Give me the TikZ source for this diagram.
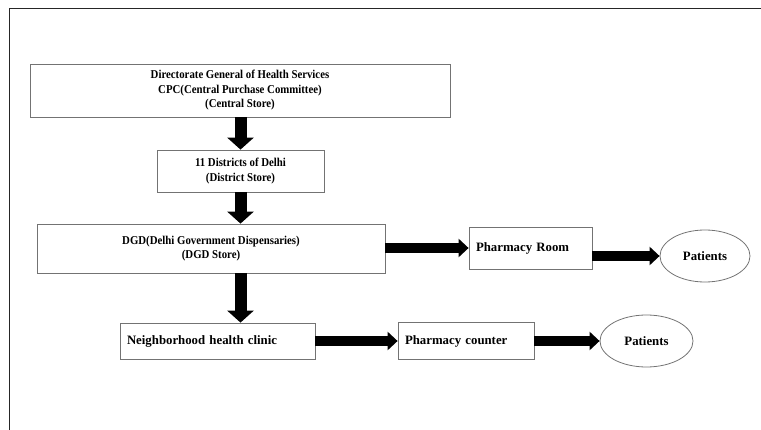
\documentclass[tikz,border=0pt]{standalone}
\usepackage{fontspec}
\setmainfont{Liberation Serif}
\usepackage{tikz}
\usetikzlibrary{arrows.meta,%
                shapes.geometric,positioning}

\begin{document}
\begin{tikzpicture}[x=1pt,y=-1pt,
  every node/.style={font=\fontsize{12}{14.5}\selectfont\bfseries\addfontfeature{FakeStretch=0.9}},
  box/.style={draw=black!55,line width=0.8pt,inner sep=0pt},
  leftbox/.style={box,align=left,inner xsep=7pt,font=\fontsize{12.8}{15}\selectfont\bfseries},
  oval/.style={draw=black!55,line width=0.8pt,ellipse,inner sep=0pt,font=\fontsize{12.8}{15}\selectfont\bfseries},
  fatdown/.style={line width=12pt,-{Triangle[length=12pt,width=26pt]}},
  fatright/.style={line width=9.5pt,-{Triangle[length=10pt,width=18pt]}}]
\useasboundingbox (0,0) rectangle (761,430);
% frame
\draw[black!85,line width=0.8pt] (761,8) -- (9,8) -- (9,430);
% boxes
\node[box,minimum width=420pt,minimum height=53pt,align=center] (dghs) at (240,90.5)
  {Directorate General of Health Services\\CPC(Central Purchase Committee)\\(Central Store)};
\node[box,minimum width=167pt,minimum height=42pt,align=center] (dist) at (240.5,171)
  {11 Districts of Delhi\\(District Store)};
\node[box,minimum width=348pt,minimum height=49pt,align=center] (dgd) at (211,248.5)
  {DGD(Delhi Government Dispensaries)\\(DGD Store)};
\node[leftbox,text width=181pt,minimum height=36pt] (nhc) at (217.5,341)
  {Neighborhood health clinic};
\node[leftbox,text width=122pt,minimum height=37pt] (pcnt) at (466,341)
  {Pharmacy counter};
\node[oval,minimum width=93pt,minimum height=52pt] (pat2) at (646.5,341) {Patients};
\node[leftbox,text width=109pt,minimum height=42pt] (proom) at (530.5,248)
  {Pharmacy Room};
\node[oval,minimum width=90pt,minimum height=52pt] (pat1) at (705,256) {Patients};
% arrows
\draw[fatdown] (dghs.south -| dist.north) -- (dist.north);
\draw[fatdown] (dist.south) -- (dist.south |- dgd.north);
\draw[fatdown] (dgd.south -| dist.south) -- (dist.south |- nhc.north);
\draw[fatright] (dgd.east |- proom.west) -- (proom.west);
\draw[fatright] (proom.east |- pat1.west) -- (pat1.west);
\draw[fatright] (nhc.east) -- (pcnt.west);
\draw[fatright] (pcnt.east |- pat2.west) -- (pat2.west);
\end{tikzpicture}
\end{document}
